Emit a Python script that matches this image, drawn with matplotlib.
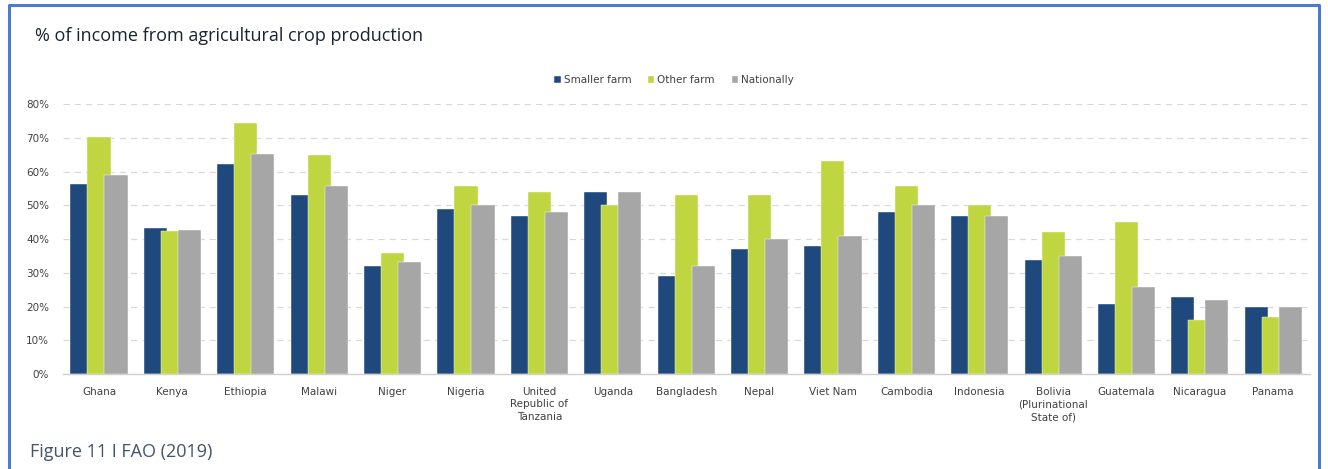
import numpy as np
import matplotlib
matplotlib.use('Agg')
import matplotlib.pyplot as plt
from matplotlib.lines import Line2D
from matplotlib.ticker import PercentFormatter

# Data
countries = ['Ghana', 'Kenya', 'Ethiopia', 'Malawi', 'Niger', 'Nigeria',
             'United\nRepublic of\nTanzania', 'Uganda', 'Bangladesh', 'Nepal',
             'Viet Nam', 'Cambodia', 'Indonesia',
             'Bolivia\n(Plurinational\nState of)', 'Guatemala', 'Nicaragua', 'Panama']
smaller_farm = [56.2, 43.3, 62.3, 52.9, 32.0, 49.0, 46.8, 54.0, 29.0, 37.0,
                37.8, 47.9, 46.8, 33.8, 20.7, 22.9, 20.0]
other_farm = [70.2, 42.5, 74.3, 64.8, 35.9, 55.8, 54.0, 50.0, 52.9, 52.9,
              63.1, 55.8, 50.0, 42.1, 45.0, 16.1, 16.8]
nationally = [59.1, 42.8, 65.2, 55.8, 33.1, 50.0, 47.9, 54.0, 32.0, 39.9,
              41.0, 50.0, 46.8, 35.0, 25.9, 21.9, 20.0]

c_small = '#1f497d'
c_other = '#bfd641'
c_nat = '#a6a6a6'

fig = plt.figure(figsize=(13.28, 4.69), dpi=100)

# blue frame round the figure
frame = Line2D([8.5/1328, 8.5/1328, 1319/1328, 1319/1328],
               [0, 1 - 5.5/469, 1 - 5.5/469, 0],
               transform=fig.transFigure, color='#4a7bd0', lw=2.2)
fig.add_artist(frame)

ax = fig.add_axes([63/1328, 1 - 374/469, (1310 - 63)/1328, (374 - 104)/469])

x = np.arange(len(countries))
w = 0.315
off = 0.232
ax.bar(x - off, smaller_farm, w, color=c_small, edgecolor='white', linewidth=0.3, zorder=2, label='Smaller farm')
ax.bar(x, other_farm, w, color=c_other, edgecolor='white', linewidth=0.3, zorder=3, label='Other farm')
ax.bar(x + off, nationally, w, color=c_nat, edgecolor='white', linewidth=0.3, zorder=4, label='Nationally')

ax.set_ylim(0, 80)
ax.set_xlim(-0.49, len(countries) - 0.5)
ax.set_yticks(np.arange(0, 81, 10))
ax.yaxis.set_major_formatter(PercentFormatter(decimals=0))
ax.grid(axis='y', color='#d9d9d9', linestyle=(0, (5, 4)), linewidth=0.9, zorder=0)
ax.set_axisbelow(True)

for s in ['top', 'right', 'left']:
    ax.spines[s].set_visible(False)
ax.spines['bottom'].set_color('#d0d0d0')
ax.spines['bottom'].set_linewidth(1.0)

ax.set_xticks(x)
ax.set_xticklabels(countries, fontsize=7.5, color='#404040', linespacing=1.35, va='top')
ax.tick_params(axis='x', length=0, pad=9)
ax.tick_params(axis='y', length=0, labelsize=7.5, labelcolor='#404040', pad=10)

leg = ax.legend(loc='center', bbox_to_anchor=(0.49, 1.0 + 24/270), ncol=3, frameon=False,
                fontsize=7.5, handlelength=0.6, handleheight=0.6, handletextpad=0.3,
                columnspacing=1.6)
for t in leg.get_texts():
    t.set_color('#404040')

fig.text(35/1328, 1 - 36/469, '% of income from agricultural crop production',
         fontsize=13, family='Open Sans', color='#1a2430', va='center')
fig.text(30/1328, 1 - 452/469, 'Figure 11 I FAO (2019)',
         fontsize=13, family='Open Sans', color='#44546a', va='center')

fig.savefig('out.png', dpi=100)
